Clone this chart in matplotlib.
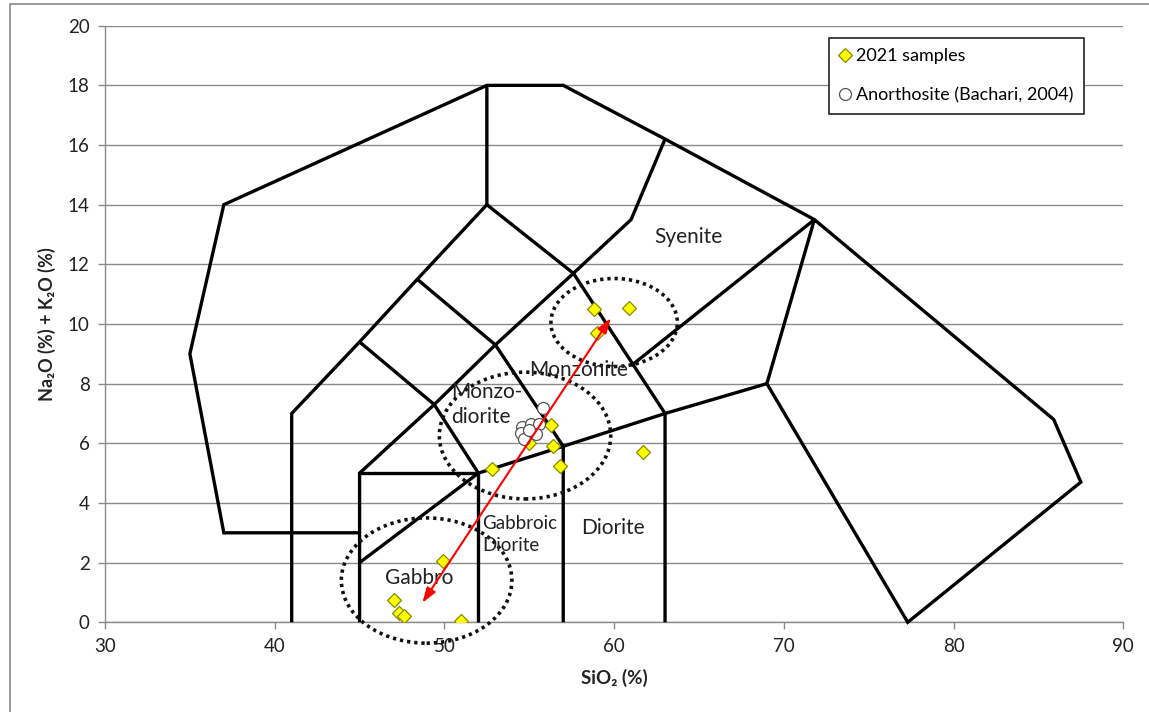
#!/usr/bin/env python3

import matplotlib

matplotlib.use("Agg")
import matplotlib.pyplot as plt
from matplotlib.patches import Ellipse, Rectangle

plt.rcParams["font.family"] = ["Lato", "DejaVu Sans"]

# TAS field boundaries (SiO2, Na2O+K2O), one polyline per list
boundaries = [
    [(45, 3), (37, 3), (35, 9), (37, 14), (52.5, 18), (57, 18), (63, 16.2),
     (71.8, 13.5), (85.9, 6.8), (87.5, 4.7), (77.3, 0), (69, 8), (71.8, 13.5)],
    [(41, 0), (41, 7), (45, 9.4), (48.4, 11.5), (52.5, 14), (52.5, 18)],
    [(45, 0), (45, 5), (49.4, 7.3), (53, 9.3), (57.6, 11.7), (61, 13.5), (63, 16.2)],
    [(45, 5), (52, 5), (52, 0)],
    [(45, 2), (52, 5), (57, 5.9), (63, 7), (69, 8)],
    [(57, 0), (57, 5.9), (53, 9.3), (48.4, 11.5)],
    [(63, 0), (63, 7), (57.6, 11.7), (52.5, 14)],
    [(45, 9.4), (49.4, 7.3), (52, 5)],
    [(61, 8.6), (71.8, 13.5)],
]

# field names and where they sit
field_names = ["Syenite", "Monzonite", "Monzo-\ndiorite", "Gabbroic\nDiorite", "Diorite", "Gabbro"]
field_x = [64.4, 57.9, 50.4, 52.2, 59.9, 48.5]
field_y = [12.9, 8.45, 7.3, 2.95, 3.15, 1.5]

# 2021 samples
sample_sio2 = [58.8, 60.9, 59.0, 55.0, 56.3, 56.4, 56.8, 52.8, 61.7, 49.9, 51.0, 47.0, 47.3, 47.6]
sample_alk = [10.5, 10.55, 9.7, 6.0, 6.6, 5.9, 5.25, 5.15, 5.7, 2.05, 0.05, 0.75, 0.3, 0.2]

# Anorthosite (Bachari, 2004)
anor_sio2 = [55.8, 54.6, 55.1, 55.6, 54.5, 54.7, 55.4, 55.0]
anor_alk = [7.2, 6.55, 6.65, 6.65, 6.35, 6.15, 6.3, 6.45]

# dotted groups: centre x, centre y, width, height
group_cx = [48.95, 54.75, 60.0]
group_cy = [1.4, 6.26, 10.05]
group_w = [10.05, 10.1, 7.45]
group_h = [4.2, 4.25, 2.95]

# trend arrow ends
arrow_start = (48.7, 0.65)
arrow_end = (59.8, 10.2)


def draw():
    fig = plt.figure(figsize=(11.49, 7.12), dpi=100)
    ax = fig.add_axes([0.0914, 0.126, 0.8862, 0.8379])

    # outer chart border
    fig.patches.append(Rectangle((10 / 1149, -0.1), 1.2, 1.1 - 4 / 712,
                                 transform=fig.transFigure, fill=False,
                                 edgecolor="#8a8a8a", lw=1.2))

    for line in boundaries:
        xs = [p[0] for p in line]
        ys = [p[1] for p in line]
        ax.plot(xs, ys, color="black", lw=2.4, solid_joinstyle="miter",
                solid_capstyle="butt", zorder=3, clip_on=False)

    for cx, cy, w, h in zip(group_cx, group_cy, group_w, group_h):
        e = Ellipse((cx, cy), w, h, fill=False, edgecolor="#111111", lw=2.6,
                    linestyle=(0, (0.9, 1.1)), zorder=4, clip_on=False)
        ax.add_patch(e)

    for name, x, y in zip(field_names, field_x, field_y):
        small = name.startswith("Gabbroic")
        ha = "left" if "\n" in name else "center"
        ax.text(x, y, name, ha=ha, va="center", fontsize=13.5 if small else 15,
                color="#222222", linespacing=1.38 if small else 1.33, zorder=5)

    ax.annotate("", xy=arrow_end, xytext=arrow_start,
                arrowprops=dict(arrowstyle="<|-|>,head_length=0.9,head_width=0.3",
                                color="#ff0000", lw=1.5, shrinkA=0, shrinkB=0),
                zorder=7)

    ax.plot(sample_sio2, sample_alk, linestyle="none", marker="D", ms=7.5,
            mfc="#ffff00", mec="#8a8a00", mew=0.9, zorder=6, label="2021 samples")
    ax.plot(anor_sio2, anor_alk, linestyle="none", marker="o", ms=8.6,
            mfc="white", mec="#555555", mew=0.9, zorder=6,
            label="Anorthosite (Bachari, 2004)")

    ax.set_xlim(30, 90)
    ax.set_ylim(0, 20)
    ax.set_xticks(range(30, 91, 10))
    ax.set_yticks(range(0, 21, 2))
    ax.yaxis.grid(True, color="#8a8a8a", lw=1.0)
    ax.set_axisbelow(True)
    for side in ["top", "right"]:
        ax.spines[side].set_visible(False)
    for side in ["left", "bottom"]:
        ax.spines[side].set_color("#8a8a8a")
        ax.spines[side].set_linewidth(1.0)
    ax.tick_params(direction="out", length=5, width=1, color="#8a8a8a",
                   labelsize=13.5, labelcolor="#222222", pad=6)

    ax.set_xlabel("SiO\u2082 (%)", fontsize=13.5, fontweight="bold", color="#222222")
    ax.set_ylabel("Na\u2082O (%) + K\u2082O (%)", fontsize=13, fontweight="bold",
                  color="#222222")
    ax.xaxis.set_label_coords(0.5, -0.078)
    ax.yaxis.set_label_coords(-0.048, 0.5)

    leg = ax.legend(loc="upper right", bbox_to_anchor=(0.9614, 0.98), borderaxespad=0,
                    fontsize=13, frameon=True, fancybox=False, handlelength=0.6,
                    handletextpad=0.3, labelspacing=1.25, borderpad=0.6,
                    framealpha=1)
    leg.get_frame().set_edgecolor("#222222")
    leg.get_frame().set_linewidth(1.2)
    leg.set_zorder(10)

    fig.savefig("out.png", dpi=100)
    return


if __name__ == "__main__":
    draw()
